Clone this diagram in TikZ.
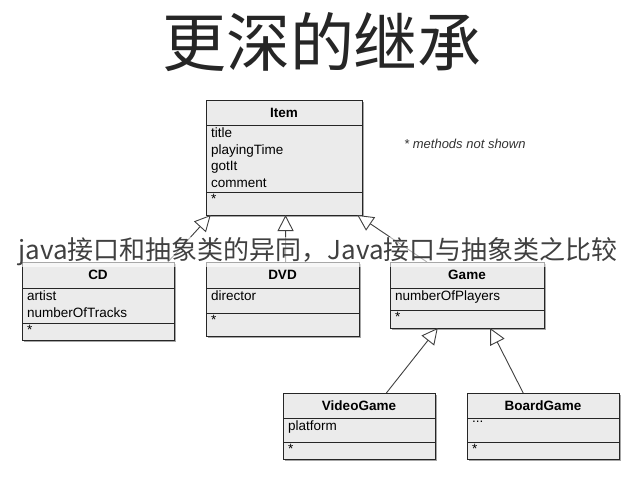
\documentclass[tikz,border=0pt]{standalone}
\usepackage{fontspec}
\setmainfont{Liberation Sans}
\newfontfamily\cjk{Noto Sans CJK SC}
\usetikzlibrary{arrows.meta,calc,shadows}
\tikzset{
  comp/.style={draw=black!85, line width=0.9pt, fill=black!8, anchor=north west, inner sep=0pt, outer sep=0pt},
  shad/.style={draw=none, fill=black!35, anchor=north west, inner sep=0pt},
  hdr/.style={font=\bfseries\fontsize{13.5}{15}\selectfont, anchor=center},
  attr/.style={font=\fontsize{13.5}{16.5}\selectfont, anchor=north west, align=left, inner sep=0pt},
  inh/.style={draw=black!75, line width=0.9pt, -{Triangle[open, length=16pt, width=16pt, fill=white]}}
}
% \umlbox{name}{x}{y}{w}{hh}{ah}{mh}{title}{attrs}
\newcommand{\umlbox}[9]{%
  \node[shad, minimum width=#4pt, minimum height=\fpeval{#5+#6+#7}pt] at (#2+2,#3+2) {};
  \node[comp, minimum width=#4pt, minimum height=#5pt] (#1) at (#2,#3) {};
  \node[comp, minimum width=#4pt, minimum height=#6pt] (#1a) at (#2,#3+#5) {};
  \node[comp, minimum width=#4pt, minimum height=#7pt] (#1m) at (#2,#3+#5+#6) {};
  \node[hdr] (#1t) at (#1.center) {#8};
  \node[attr] (#1x) at ($(#1a.north west)+(5,3)$) {#9};
  \node[attr] (#1s) at ($(#1m.north west)+(5,2)$) {*};
}
\begin{document}
\begin{tikzpicture}[x=1pt,y=-1pt]
\useasboundingbox[fill=white] (0,0) rectangle (633,490);
\node[font=\cjk\fontsize{64}{70}\selectfont, text=black!85] (title) at (322,42) {更深的继承};
\node[attr, font=\itshape\fontsize{13}{15}\selectfont, text=black!80] (note) at (404,139) {* methods not shown};
\umlbox{item}{206}{100}{156}{25}{67}{23}{Item}{title\\playingTime\\gotIt\\comment}
\umlbox{cd}{22}{262}{152}{26}{35}{17}{CD}{artist\\numberOfTracks}
\umlbox{dvd}{206}{262}{153}{26}{25}{23}{DVD}{director}
\umlbox{game}{390}{262}{154}{26}{22}{18}{Game}{numberOfPlayers}
\umlbox{vg}{283}{393}{152}{25}{24}{17}{VideoGame}{platform}
\umlbox{bg}{467}{393}{152}{25}{24}{17}{BoardGame}{...}
\draw[inh] ($(cd.north west)!0.96!(cd.north east)$) -- ($(itemm.south west)!0.03!(itemm.south east)$);
\draw[inh] ($(dvd.north west)!0.52!(dvd.north east)$) -- ($(itemm.south west)!0.51!(itemm.south east)$);
\draw[inh] ($(game.north west)!0.24!(game.north east)$) -- ($(itemm.south west)!0.97!(itemm.south east)$);
\draw[inh] ($(vg.north west)!0.68!(vg.north east)$) -- ($(gamem.south west)!0.31!(gamem.south east)$);
\draw[inh] ($(bg.north west)!0.37!(bg.north east)$) -- ($(gamem.south west)!0.65!(gamem.south east)$);
\node[font=\cjk\fontsize{26}{30}\selectfont, text=black!75, fill=white, fill opacity=0.6, text opacity=1, inner sep=1pt] (cap) at (318,252) {java接口和抽象类的异同，Java接口与抽象类之比较};
\end{tikzpicture}
\end{document}
